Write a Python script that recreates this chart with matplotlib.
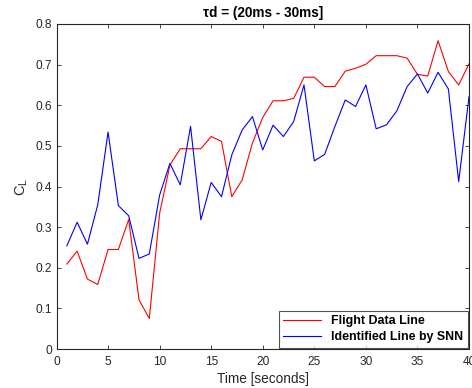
import numpy as np
import matplotlib
matplotlib.use('Agg')
import matplotlib.pyplot as plt

plt.rcParams['font.family'] = ['Liberation Sans', 'DejaVu Sans']

time_s = list(range(1, 41))
flight_cl = [0.209, 0.241, 0.172, 0.159, 0.245, 0.245, 0.319, 0.121, 0.075, 0.334,
             0.453, 0.493, 0.493, 0.493, 0.523, 0.511, 0.375, 0.416, 0.507, 0.570,
             0.611, 0.611, 0.617, 0.669, 0.669, 0.646, 0.646, 0.684, 0.691, 0.701,
             0.722, 0.722, 0.722, 0.716, 0.676, 0.672, 0.759, 0.683, 0.650, 0.702]
snn_cl = [0.254, 0.312, 0.258, 0.355, 0.534, 0.353, 0.328, 0.223, 0.234, 0.379,
          0.457, 0.404, 0.548, 0.318, 0.410, 0.375, 0.478, 0.539, 0.572, 0.490,
          0.551, 0.523, 0.560, 0.650, 0.463, 0.479, 0.548, 0.613, 0.597, 0.650,
          0.542, 0.552, 0.586, 0.646, 0.677, 0.630, 0.681, 0.640, 0.412, 0.621]

fs = 8.6
W, H = 472, 388
fig = plt.figure(figsize=(W / 100, H / 100), dpi=100)
ax = fig.add_axes([56.5 / W, (H - 349) / H, (469 - 56.5) / W, (349 - 24) / H])

ax.plot(time_s, flight_cl, color='#ff0000', lw=0.8, label='Flight Data Line')
ax.plot(time_s, snn_cl, color='#0000ff', lw=0.8, label='Identified Line by SNN')

ax.set_xlim(0, 40)
ax.set_ylim(0, 0.8)
ax.set_xticks(np.arange(0, 41, 5))
ax.set_yticks(np.arange(0, 0.81, 0.1))
ax.set_yticklabels(['0', '0.1', '0.2', '0.3', '0.4', '0.5', '0.6', '0.7', '0.8'])
ax.tick_params(direction='in', length=3, width=0.6, top=True, right=True,
               labelsize=fs, colors='#262626', labelcolor='#262626', pad=3)
ax.tick_params(axis='x', pad=5)
for sp in ax.spines.values():
    sp.set_linewidth(0.8)
    sp.set_color('#262626')

ax.set_xlabel('Time [seconds]', fontsize=9.8, color='#262626', labelpad=3)
ax.set_ylabel('C$_\\mathregular{L}$', fontsize=10.5, color='#262626', labelpad=4)
ax.set_title('τd = (20ms - 30ms]', fontsize=9.8, fontweight='bold', pad=5)

leg = ax.legend(loc='lower right', frameon=True, fancybox=False,
                edgecolor='#262626', handlelength=3.1, borderaxespad=0.12,
                borderpad=0.35, labelspacing=0.3, handletextpad=0.8,
                prop={'weight': 'bold', 'size': 8.9})
leg.get_frame().set_linewidth(0.8)

plt.savefig('out.png', dpi=100)
